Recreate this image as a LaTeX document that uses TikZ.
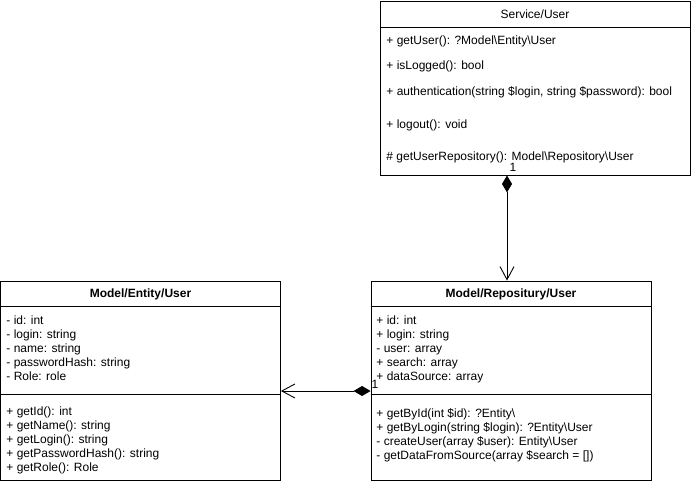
\documentclass[tikz,border=0pt]{standalone}
\usepackage{fontspec}
\setmainfont{Liberation Sans}
\usetikzlibrary{arrows.meta}

\begin{document}
\begin{tikzpicture}[x=1pt, y=-1pt, line width=0.9pt,
classbox/.style={draw, rectangle, inner sep=0pt},
title/.style={font=\fontsize{12}{14}\selectfont\bfseries, inner sep=0pt, text height=10pt, text depth=1pt},
member/.style={anchor=west, font=\fontsize{12}{14}\selectfont, inner sep=0pt, text height=10pt, text depth=1pt},
mult/.style={font=\fontsize{12}{14}\selectfont, inner sep=0pt},
compose/.style={{Diamond[length=17pt,width=10pt]}-{Straight Barb[length=13pt,width=14pt]}}]
\useasboundingbox (0,0) rectangle (691,484);

% Service/User
\node[classbox, minimum width=310pt, minimum height=174pt] (service) at (535,88) {};
\draw (service.west |- 0,27) -- (service.east |- 0,27);
\node[title, font=\fontsize{12}{14}\selectfont] (svctitle) at (535,14) {Service/User};
\node[member] (svc1) at (386,40) {+ getUser(): ?Model\textbackslash Entity\textbackslash User};
\node[member] (svc2) at (386,65) {+ isLogged(): bool};
\node[member] (svc3) at (386,91) {+ authentication(string \$login, string \$password): bool};
\node[member] (svc4) at (386,124) {+ logout(): void};
\node[member] (svc5) at (386,156) {\# getUserRepository(): Model\textbackslash Repository\textbackslash User};

% Model/Entity/User
\node[classbox, minimum width=280pt, minimum height=199pt] (entity) at (140.5,380.5) {};
\draw (entity.west |- 0,306) -- (entity.east |- 0,306);
\draw (entity.west |- 0,394) -- (entity.east |- 0,394);
\node[title] (enttitle) at (140.5,293) {Model/Entity/User};
\node[member] (ent1) at (6,320) {- id: int};
\node[member] (ent2) at (6,334) {- login: string};
\node[member] (ent3) at (6,348) {- name: string};
\node[member] (ent4) at (6,362) {- passwordHash: string};
\node[member] (ent5) at (6,376) {- Role: role};
\node[member] (ent6) at (6,411) {+ getId(): int};
\node[member] (ent7) at (6,425) {+ getName(): string};
\node[member] (ent8) at (6,439) {+ getLogin(): string};
\node[member] (ent9) at (6,453) {+ getPasswordHash(): string};
\node[member] (ent10) at (6,467) {+ getRole(): Role};

% Model/Repository/User
\node[classbox, minimum width=280pt, minimum height=199pt] (repo) at (511,380.5) {};
\draw (repo.west |- 0,306) -- (repo.east |- 0,306);
\draw (repo.west |- 0,394) -- (repo.east |- 0,394);
\node[title] (repotitle) at (511,293) {Model/Repositury/User};
\node[member] (repo1) at (376,320) {+ id: int};
\node[member] (repo2) at (376,334) {+ login: string};
\node[member] (repo3) at (376,348) {- user: array};
\node[member] (repo4) at (376,362) {+ search: array};
\node[member] (repo5) at (376,376) {+ dataSource: array};
\node[member] (repo6) at (376,413) {+ getById(int \$id): ?Entity\textbackslash};
\node[member] (repo7) at (376,427) {+ getByLogin(string \$login): ?Entity\textbackslash User};
\node[member] (repo8) at (376,441) {- createUser(array \$user): Entity\textbackslash User};
\node[member] (repo9) at (376,455) {- getDataFromSource(array \$search = [])};

% links
\coordinate (downlink) at (507,0);
\coordinate (crosslink) at (0,391);
\draw[compose] (service.south -| downlink) -- (repo.north -| downlink);
\draw[compose] (repo.west |- crosslink) -- (entity.east |- crosslink);
\node[mult] (svcmult) at (513,167) {1};
\node[mult] (repomult) at (375,384) {1};
\end{tikzpicture}
\end{document}
